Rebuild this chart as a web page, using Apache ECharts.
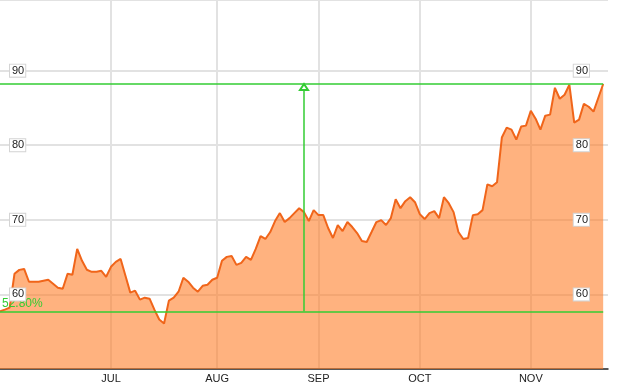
<!DOCTYPE html>
<html>
<head>
<meta charset="utf-8">
<script src="https://cdn.jsdelivr.net/npm/echarts@6/dist/echarts.min.js"></script>
<style>
html,body{margin:0;padding:0;background:#fff;}
#chart{width:619px;height:384px;}
</style>
</head>
<body>
<div id="chart"></div>
<script>
// ---- data ----
const monthLabels = ['JUL', 'AUG', 'SEP', 'OCT', 'NOV'];
const monthStartIdx = [23, 45, 66, 87, 110];
const prices = [
  57.73, 57.96, 58.23, 62.76, 63.29, 63.42, 61.7, 61.7, 61.7, 61.83,
  61.96, 61.43, 60.9, 60.76, 62.76, 62.63, 66.1, 64.5, 63.3, 63.03,
  63.03, 63.16, 62.36, 63.7, 64.36, 64.76, 62.5, 60.24, 60.5, 59.3,
  59.56, 59.43, 57.96, 56.63, 56.1, 59.17, 59.56, 60.36, 62.23, 61.7,
  60.9, 60.36, 61.16, 61.3, 61.96, 62.23, 64.5, 65.03, 65.16, 63.96,
  64.23, 65.03, 64.63, 66.1, 67.8, 67.43, 68.36, 69.83, 70.9, 69.7,
  70.23, 70.9, 71.56, 71.03, 69.83, 71.3, 70.63, 70.63, 68.9, 67.56,
  69.3, 68.5, 69.7, 69.03, 68.23, 67.16, 67.03, 68.36, 69.7, 69.96,
  69.3, 70.23, 72.76, 71.56, 72.5, 73.03, 72.36, 70.76, 70.1, 70.9,
  71.16, 70.23, 73.03, 72.23, 71.03, 68.36, 67.43, 67.56, 70.63, 70.76,
  71.3, 74.76, 74.5, 75.03, 81.03, 82.36, 82.1, 80.76, 82.5, 82.63,
  84.63, 83.56, 82.1, 83.96, 84.1, 87.7, 86.23, 86.76, 88.1, 83.03,
  83.43, 85.56, 85.16, 84.5, 86.36, 88.21
];
const yMin = 50, yMax = 99.47, yStep = 10;

// ---- build ----
const categories = [];
for (let i = 0; i <= prices.length; i++) {
  const k = monthStartIdx.indexOf(i);
  categories.push(k >= 0 ? monthLabels[k] : '');
}
const isMonth = (idx) => monthStartIdx.indexOf(idx) >= 0;
const lastIdx = prices.length - 1;
const first = prices[0];
const last = prices[lastIdx];
const pct = ((last / first - 1) * 100).toFixed(2) + '%';
const green = '#33cc33';
const gLine = {color: green, width: 1.5, type: 'solid', opacity: 1};
const font = 'Liberation Sans, Arial, sans-serif';

const yLabel = {
  inside: true,
  fontSize: 11,
  fontFamily: font,
  color: '#222',
  backgroundColor: '#fff',
  borderColor: '#d4d4d4',
  borderWidth: 1,
  padding: [1, 1, 0, 2],
  showMinLabel: false,
  showMaxLabel: false
};
const noAxis = {axisLine: {show: false}, axisTick: {show: false}};

const chart = echarts.init(document.getElementById('chart'), null, {renderer: 'canvas'});
chart.setOption({
  animation: false,
  backgroundColor: '#fff',
  grid: {left: 0, right: 11, top: 0, bottom: 13, containLabel: false},
  xAxis: {
    type: 'category',
    data: categories,
    boundaryGap: false,
    axisLine: {show: true, lineStyle: {color: '#2a2a2a', width: 1.5}},
    axisTick: {show: false},
    axisLabel: {
      interval: (idx) => isMonth(idx),
      fontSize: 11,
      fontFamily: font,
      color: '#222',
      margin: 4
    },
    splitLine: {
      show: true,
      interval: (idx) => isMonth(idx),
      lineStyle: {color: '#e2e2e2', width: 2}
    }
  },
  yAxis: [
    Object.assign({
      type: 'value', position: 'left', min: yMin, max: yMax, interval: yStep, z: 0,
      axisLabel: {show: false},
      splitLine: {show: true, lineStyle: {color: '#e2e2e2', width: 2}}
    }, noAxis),
    Object.assign({
      type: 'value', position: 'left', min: yMin, max: yMax, interval: yStep, z: 10,
      axisLabel: Object.assign({margin: 10}, yLabel),
      splitLine: {show: false}
    }, noAxis),
    Object.assign({
      type: 'value', position: 'right', min: yMin, max: yMax, interval: yStep, z: 10,
      axisLabel: Object.assign({margin: 19}, yLabel),
      splitLine: {show: false}
    }, noAxis)
  ],
  series: [{
    type: 'line',
    data: prices,
    yAxisIndex: 0,
    symbol: 'none',
    smooth: false,
    lineStyle: {color: '#f0651a', width: 2},
    areaStyle: {color: '#ff7f2a', opacity: 0.6, origin: 'start'},
    z: 2,
    markLine: {
      silent: true,
      animation: false,
      z: 6,
      symbol: 'none',
      lineStyle: gLine,
      label: {show: false},
      emphasis: {disabled: true},
      data: [
        [
          {coord: [0, first], lineStyle: gLine, label: {show: true, position: 'insideStartTop', formatter: pct, color: green, fontSize: 12, fontFamily: font, distance: [2, 2]}},
          {coord: [lastIdx, first], lineStyle: gLine}
        ],
        [
          {coord: [0, last], lineStyle: gLine},
          {coord: [lastIdx, last], lineStyle: gLine}
        ],
        [
          {coord: [lastIdx / 2, first], symbol: 'none', lineStyle: gLine},
          {coord: [lastIdx / 2, last], symbol: 'emptyTriangle', symbolSize: [8, 6], symbolOffset: [0, 3], lineStyle: gLine}
        ]
      ]
    }
  }]
});
</script>
</body>
</html>
